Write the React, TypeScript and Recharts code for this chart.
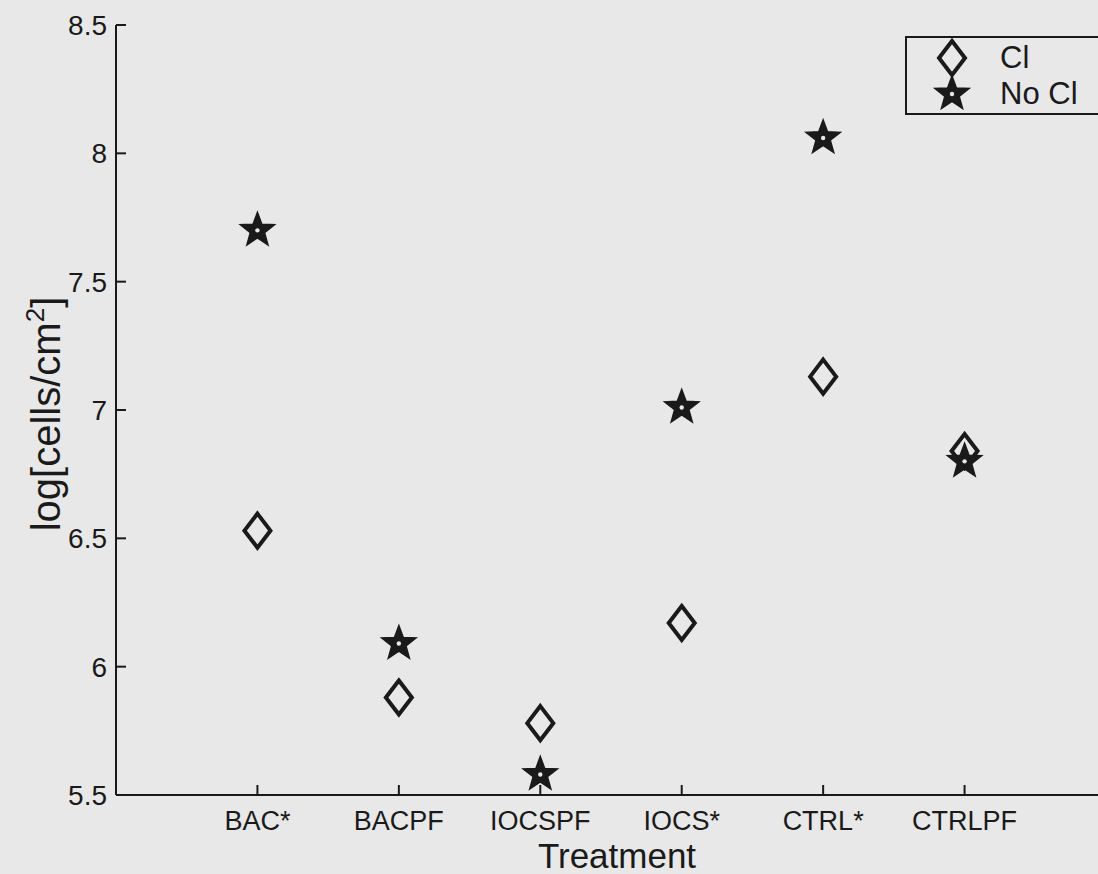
import { ScatterChart, Scatter, XAxis, YAxis, Legend } from 'recharts';

const treatments = ['BAC*', 'BACPF', 'IOCSPF', 'IOCS*', 'CTRL*', 'CTRLPF'];
const clValues = [6.53, 5.88, 5.78, 6.17, 7.13, 6.84];
const noClValues = [7.7, 6.09, 5.58, 7.01, 8.06, 6.8];
const xTicks = [1, 2, 3, 4, 5, 6];
const yTicks = [5.5, 6, 6.5, 7, 7.5, 8, 8.5];

const clData = treatments.map((t, i) => ({ x: i + 1, y: clValues[i], name: t }));
const noClData = treatments.map((t, i) => ({ x: i + 1, y: noClValues[i], name: t }));

const BG = '#e8e8e8';
const INK = '#1a1a1a';
const FONT = 'Arial, "Liberation Sans", Helvetica, sans-serif';

function Diamond({ cx, cy }: any) {
  return (
    <polygon
      points={`${cx},${cy - 17} ${cx + 13},${cy} ${cx},${cy + 17} ${cx - 13},${cy}`}
      fill="none"
      stroke={INK}
      strokeWidth={4}
      strokeLinejoin="miter"
    />
  );
}

function starPoints(cx: number, cy: number, R: number, r: number) {
  const pts: string[] = [];
  for (let k = 0; k < 10; k++) {
    const rad = k % 2 === 0 ? R : r;
    const a = -Math.PI / 2 + (k * Math.PI) / 5;
    pts.push(`${cx + rad * Math.cos(a)},${cy + rad * Math.sin(a)}`);
  }
  return pts.join(' ');
}

function Star({ cx, cy }: any) {
  return (
    <g>
      <polygon points={starPoints(cx, cy, 18, 7.5)} fill={INK} stroke={INK} strokeWidth={1.5} strokeLinejoin="miter" />
      <circle cx={cx} cy={cy} r={2.2} fill={BG} />
    </g>
  );
}

function LeftTick({ x, y, payload }: any) {
  return (
    <g>
      <line x1={x} x2={x + 10} y1={y} y2={y} stroke={INK} strokeWidth={2} />
      <text x={x - 9} y={y} dy="0.36em" textAnchor="end" fontSize={28} fill={INK} fontFamily={FONT}>
        {payload.value}
      </text>
    </g>
  );
}

function RightTick({ x, y }: any) {
  return <line x1={x} x2={x - 10} y1={y} y2={y} stroke={INK} strokeWidth={2} />;
}

function BottomTick({ x, y, payload }: any) {
  return (
    <g>
      <line x1={x} x2={x} y1={y} y2={y - 10} stroke={INK} strokeWidth={2} />
      <text x={x} y={y + 35} textAnchor="middle" fontSize={27} fill={INK} fontFamily={FONT}>
        {treatments[payload.value - 1]}
      </text>
    </g>
  );
}

function TopTick({ x, y }: any) {
  return <line x1={x} x2={x} y1={y} y2={y + 10} stroke={INK} strokeWidth={2} />;
}

function YLabel({ viewBox }: any) {
  const cy = viewBox.y + viewBox.height / 2 + 4;
  return (
    <text
      transform={`translate(60, ${cy}) rotate(-90)`}
      textAnchor="middle"
      fontSize={40}
      fill={INK}
      fontFamily={FONT}
    >
      log[cells/cm
      <tspan fontSize={26} dy={-16}>2</tspan>
      <tspan dy={16}>]</tspan>
    </text>
  );
}

function LegendBox() {
  const rows = [
    { label: 'Cl', mark: <Diamond cx={20} cy={20} /> },
    { label: 'No Cl', mark: <Star cx={20} cy={20} /> },
  ];
  return (
    <div
      style={{
        border: `2px solid ${INK}`,
        width: 240,
        height: 79,
        boxSizing: 'border-box',
        fontFamily: FONT,
        paddingTop: 2,
      }}
    >
      {rows.map((r) => (
        <div key={r.label} style={{ display: 'flex', alignItems: 'center', height: 36 }}>
          <svg width={40} height={40} style={{ marginLeft: 25, overflow: 'visible', flexShrink: 0 }}>
            {r.mark}
          </svg>
          <span style={{ fontSize: 31, color: INK, marginLeft: 28, lineHeight: '36px' }}>{r.label}</span>
        </div>
      ))}
    </div>
  );
}

export default function App() {
  return (
    <div
      style={{
        position: 'absolute',
        left: 0,
        top: 0,
        width: 1098,
        height: 874,
        overflow: 'hidden',
        background: BG,
      }}
    >
      <ScatterChart width={1106} height={874} margin={{ top: 25, right: 0, bottom: 0, left: 0 }}>
        <XAxis
          xAxisId="bottom"
          type="number"
          dataKey="x"
          domain={[0, 7]}
          ticks={xTicks}
          interval={0}
          height={79}
          tickSize={0}
          tickMargin={0}
          tick={<BottomTick />}
          axisLine={{ stroke: INK, strokeWidth: 2 }}
          label={{ value: 'Treatment', position: 'insideBottom', offset: 6, fontSize: 35, fill: INK, fontFamily: FONT, dx: 6 }}
        />
        <XAxis
          xAxisId="top"
          orientation="top"
          type="number"
          dataKey="x"
          domain={[0, 7]}
          ticks={xTicks}
          interval={0}
          height={0}
          tickSize={0}
          tickMargin={0}
          tick={<TopTick />}
          axisLine={{ stroke: INK, strokeWidth: 2 }}
        />
        <YAxis
          yAxisId="left"
          type="number"
          dataKey="y"
          domain={[5.5, 8.5]}
          ticks={yTicks}
          interval={0}
          width={116}
          tickSize={0}
          tickMargin={0}
          tick={<LeftTick />}
          axisLine={{ stroke: INK, strokeWidth: 2 }}
          label={<YLabel />}
        />
        <YAxis
          yAxisId="right"
          orientation="right"
          type="number"
          dataKey="y"
          domain={[5.5, 8.5]}
          ticks={yTicks}
          interval={0}
          width={0}
          tickSize={0}
          tickMargin={0}
          tick={<RightTick />}
          axisLine={{ stroke: INK, strokeWidth: 2 }}
        />
        <Legend
          layout="vertical"
          align="center"
          verticalAlign="middle"
          wrapperStyle={{ left: 905, top: 36, width: 240, height: 79 }}
          content={() => <LegendBox />}
        />
        <Scatter name="Cl" data={clData} xAxisId="bottom" yAxisId="left" shape={<Diamond />} isAnimationActive={false} />
        <Scatter name="No Cl" data={noClData} xAxisId="bottom" yAxisId="left" shape={<Star />} isAnimationActive={false} />
      </ScatterChart>
    </div>
  );
}
